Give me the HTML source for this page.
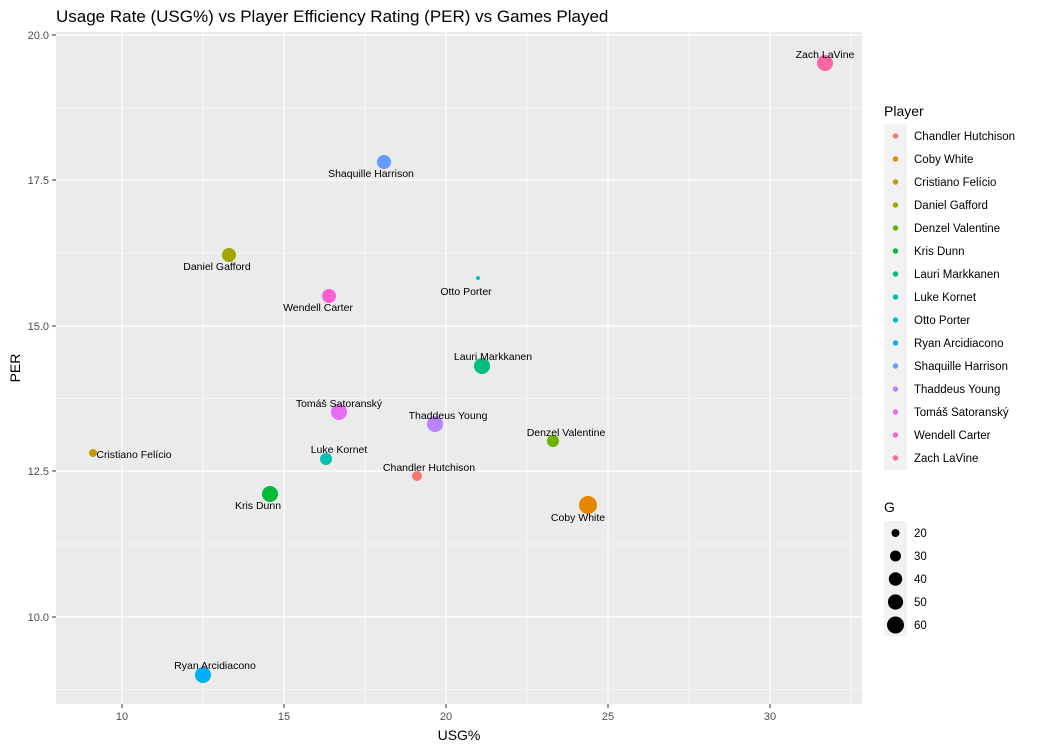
<!DOCTYPE html>
<html><head><meta charset="utf-8"><style>body{margin:0;background:#fff}svg{display:block;font-family:"Liberation Sans",Arial,sans-serif}</style></head><body>
<svg width="1050" height="750" viewBox="0 0 1050 750">
<text x="56" y="22" font-size="17" fill="#000">Usage Rate (USG%) vs Player Efficiency Rating (PER) vs Games Played</text>
<rect x="56" y="32" width="806" height="672" fill="#EBEBEB"/>
<g stroke="#fff" stroke-width="0.6">
<line x1="56" x2="862" y1="107.5" y2="107.5"/><line x1="56" x2="862" y1="253" y2="253"/><line x1="56" x2="862" y1="398.5" y2="398.5"/><line x1="56" x2="862" y1="544" y2="544"/><line x1="56" x2="862" y1="689.5" y2="689.5"/>
<line y1="32" y2="704" x1="203" x2="203"/><line y1="32" y2="704" x1="365" x2="365"/><line y1="32" y2="704" x1="527" x2="527"/><line y1="32" y2="704" x1="689" x2="689"/><line y1="32" y2="704" x1="851" x2="851"/>
</g>
<g stroke="#fff" stroke-width="1.2">
<line x1="56" x2="862" y1="35" y2="35"/><line x1="56" x2="862" y1="180" y2="180"/><line x1="56" x2="862" y1="326" y2="326"/><line x1="56" x2="862" y1="471" y2="471"/><line x1="56" x2="862" y1="617" y2="617"/>
<line y1="32" y2="704" x1="122" x2="122"/><line y1="32" y2="704" x1="284" x2="284"/><line y1="32" y2="704" x1="446" x2="446"/><line y1="32" y2="704" x1="608" x2="608"/><line y1="32" y2="704" x1="770" x2="770"/>
</g>
<g stroke="#333" stroke-width="1">
<line x1="52" x2="56" y1="35" y2="35"/><line x1="52" x2="56" y1="180" y2="180"/><line x1="52" x2="56" y1="326" y2="326"/><line x1="52" x2="56" y1="471" y2="471"/><line x1="52" x2="56" y1="617" y2="617"/>
<line y1="704" y2="708" x1="122" x2="122"/><line y1="704" y2="708" x1="284" x2="284"/><line y1="704" y2="708" x1="446" x2="446"/><line y1="704" y2="708" x1="608" x2="608"/><line y1="704" y2="708" x1="770" x2="770"/>
</g>
<g font-size="11" fill="#4D4D4D" text-anchor="end">
<text x="49" y="39">20.0</text><text x="49" y="184">17.5</text><text x="49" y="330">15.0</text><text x="49" y="475">12.5</text><text x="49" y="621">10.0</text>
</g>
<g font-size="11" fill="#4D4D4D" text-anchor="middle">
<text x="122" y="720">10</text><text x="284" y="720">15</text><text x="446" y="720">20</text><text x="608" y="720">25</text><text x="770" y="720">30</text>
</g>
<text x="459" y="740" font-size="14" text-anchor="middle">USG%</text>
<text x="20" y="368" font-size="14" text-anchor="middle" transform="rotate(-90 20 368)">PER</text>
<g>
<circle cx="825" cy="63" r="8" fill="#FF67A4"/>
<circle cx="384" cy="162" r="7" fill="#619CFF"/>
<circle cx="229" cy="255" r="7" fill="#A3A500"/>
<circle cx="329" cy="296" r="7" fill="#FD61D1"/>
<circle cx="478" cy="278" r="2" fill="#00BCD8"/>
<circle cx="482" cy="366" r="8" fill="#00BF7D"/>
<circle cx="339" cy="412" r="8" fill="#E76BF3"/>
<circle cx="435" cy="424" r="8" fill="#B983FF"/>
<circle cx="553" cy="441" r="6" fill="#6BB100"/>
<circle cx="93" cy="453" r="4" fill="#C99800"/>
<circle cx="326" cy="459" r="6" fill="#00C0AF"/>
<circle cx="417" cy="476" r="5" fill="#F8766D"/>
<circle cx="270" cy="494" r="8" fill="#00BA38"/>
<circle cx="588" cy="505" r="9" fill="#E58700"/>
<circle cx="203" cy="675" r="8" fill="#00B0F6"/>
</g>
<g font-size="10.5" fill="#000" text-anchor="middle">
<text x="825" y="58">Zach LaVine</text>
<text x="371" y="177">Shaquille Harrison</text>
<text x="217" y="270">Daniel Gafford</text>
<text x="318" y="311">Wendell Carter</text>
<text x="466" y="295">Otto Porter</text>
<text x="493" y="360">Lauri Markkanen</text>
<text x="339" y="407">Tomáš Satoranský</text>
<text x="448" y="419">Thaddeus Young</text>
<text x="566" y="436">Denzel Valentine</text>
<text x="134" y="458">Cristiano Felício</text>
<text x="339" y="453">Luke Kornet</text>
<text x="429" y="471">Chandler Hutchison</text>
<text x="258" y="509">Kris Dunn</text>
<text x="578" y="521">Coby White</text>
<text x="215" y="669">Ryan Arcidiacono</text>
</g>
<text x="884" y="116" font-size="14">Player</text>
<rect x="884" y="124" width="23" height="346" fill="#F2F2F2"/>
<g font-size="11.5" fill="#000">
<circle cx="895.5" cy="136" r="2.7" fill="#F8766D"/><text x="914" y="140">Chandler Hutchison</text>
<circle cx="895.5" cy="159" r="2.7" fill="#E58700"/><text x="914" y="163">Coby White</text>
<circle cx="895.5" cy="182" r="2.7" fill="#C99800"/><text x="914" y="186">Cristiano Felício</text>
<circle cx="895.5" cy="205" r="2.7" fill="#A3A500"/><text x="914" y="209">Daniel Gafford</text>
<circle cx="895.5" cy="228" r="2.7" fill="#6BB100"/><text x="914" y="232">Denzel Valentine</text>
<circle cx="895.5" cy="251" r="2.7" fill="#00BA38"/><text x="914" y="255">Kris Dunn</text>
<circle cx="895.5" cy="274" r="2.7" fill="#00BF7D"/><text x="914" y="278">Lauri Markkanen</text>
<circle cx="895.5" cy="297" r="2.7" fill="#00C0AF"/><text x="914" y="301">Luke Kornet</text>
<circle cx="895.5" cy="320" r="2.7" fill="#00BCD8"/><text x="914" y="324">Otto Porter</text>
<circle cx="895.5" cy="343" r="2.7" fill="#00B0F6"/><text x="914" y="347">Ryan Arcidiacono</text>
<circle cx="895.5" cy="366" r="2.7" fill="#619CFF"/><text x="914" y="370">Shaquille Harrison</text>
<circle cx="895.5" cy="389" r="2.7" fill="#B983FF"/><text x="914" y="393">Thaddeus Young</text>
<circle cx="895.5" cy="412" r="2.7" fill="#E76BF3"/><text x="914" y="416">Tomáš Satoranský</text>
<circle cx="895.5" cy="435" r="2.7" fill="#FD61D1"/><text x="914" y="439">Wendell Carter</text>
<circle cx="895.5" cy="458" r="2.7" fill="#FF67A4"/><text x="914" y="462">Zach LaVine</text>
</g>
<text x="884" y="512" font-size="14">G</text>
<rect x="884" y="521" width="23" height="115" fill="#F2F2F2"/>
<g font-size="11.5" fill="#000">
<circle cx="895.5" cy="533" r="4" fill="#000"/><text x="914" y="537">20</text>
<circle cx="895.5" cy="556" r="5.5" fill="#000"/><text x="914" y="560">30</text>
<circle cx="895.5" cy="579" r="6.7" fill="#000"/><text x="914" y="583">40</text>
<circle cx="895.5" cy="602" r="7.6" fill="#000"/><text x="914" y="606">50</text>
<circle cx="895.5" cy="625" r="8.5" fill="#000"/><text x="914" y="629">60</text>
</g>
</svg>
</body></html>
